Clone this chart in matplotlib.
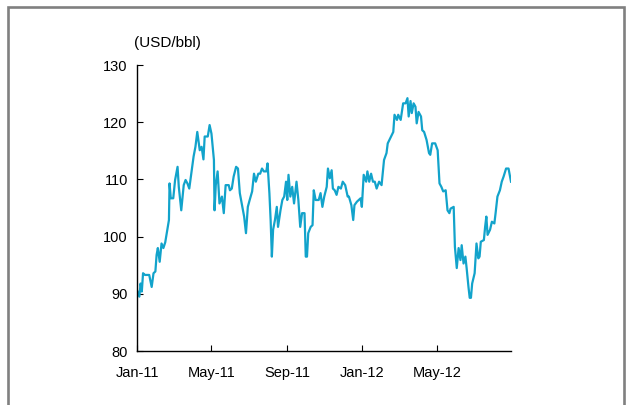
import matplotlib
matplotlib.use("Agg")
import matplotlib.pyplot as plt
import matplotlib.dates as mdates
import matplotlib.patches as mpatches
import pandas as pd

# days since 2011-01-01 and price (USD/bbl)
days = [0, 3, 5, 7, 9, 12, 19, 23, 26, 29, 31, 33, 36, 39, 42, 45, 48, 51, 52, 54,
        58, 61, 65, 67, 71, 75, 78, 81, 84, 88, 91, 94, 97, 101, 104, 107, 109, 114, 117, 120,
        124, 125, 127, 130, 133, 137, 140, 143, 148, 150, 153, 156, 160, 163, 166, 169, 173, 176, 179, 182,
        186, 189, 192, 196, 199, 202, 205, 209, 211, 214, 216, 218, 220, 223, 226, 228, 232, 235, 238, 241,
        243, 245, 248, 251, 254, 258, 261, 264, 267, 271, 273, 275, 277, 281, 284, 286, 289, 294, 297, 300,
        303, 307, 309, 312, 315, 317, 320, 323, 326, 330, 333, 337, 341, 343, 347, 350, 352, 356, 359, 362,
        364, 367, 371, 373, 376, 379, 382, 385, 388, 392, 396, 400, 404, 406, 410, 415, 417, 421, 423, 427,
        429, 431, 435, 438, 440, 443, 445, 448, 451, 453, 456, 460, 462, 465, 469, 473, 475, 478, 483, 487,
        490, 493, 496, 500, 503, 506, 508, 513, 515, 518, 521, 524, 526, 529, 532, 534, 537, 539, 541, 543,
        547, 550, 553, 555, 557, 562, 564, 566, 568, 572, 575, 579, 581, 584, 588, 591, 594, 598, 602, 606]
price = [90.4, 89.5, 91.8, 90.4, 93.6, 93.3, 93.3, 91.2, 93.6, 93.9, 96.8, 98.0, 95.6, 98.8, 98.0, 99.0, 101.0, 102.9, 109.3, 106.7,
         106.7, 109.9, 112.2, 108.7, 104.6, 109.0, 109.9, 109.3, 108.4, 111.6, 114.0, 115.7, 118.3, 115.1, 115.7, 113.5, 117.5, 117.5, 119.5, 118.0,
         113.4, 104.6, 109.0, 111.4, 105.8, 107.0, 104.1, 109.0, 109.0, 108.1, 108.4, 110.5, 112.2, 111.9, 107.6, 105.8, 103.5, 100.6, 105.2, 106.4,
         107.9, 111.0, 109.6, 111.0, 111.0, 111.9, 111.4, 111.4, 112.8, 107.6, 102.9, 96.5, 101.2, 102.9, 105.2, 101.7, 104.6, 106.4, 107.0, 109.6,
         106.4, 110.8, 107.0, 108.7, 105.8, 109.6, 106.4, 101.7, 104.1, 104.1, 96.5, 96.5, 100.6, 101.7, 102.0, 108.1, 106.4, 106.4, 107.6, 105.2,
         107.0, 108.7, 111.9, 110.2, 111.6, 108.4, 108.1, 107.3, 108.7, 108.4, 109.6, 109.0, 107.0, 107.0, 105.5, 102.9, 105.5, 106.1, 106.4, 106.7,
         105.2, 110.8, 109.6, 111.4, 109.6, 111.0, 109.6, 109.6, 108.4, 109.6, 109.0, 113.4, 114.6, 116.3, 117.2, 118.3, 121.3, 120.4, 121.3, 120.4,
         121.8, 123.3, 123.3, 124.2, 121.0, 123.7, 121.6, 123.3, 122.7, 119.8, 121.8, 121.0, 118.6, 118.3, 116.9, 114.6, 114.3, 116.3, 116.3, 115.1,
         109.3, 108.7, 107.9, 108.1, 104.6, 104.1, 104.9, 105.2, 98.2, 94.5, 98.0, 95.9, 98.5, 95.3, 96.5, 94.5, 91.2, 89.3, 89.3, 91.8,
         93.6, 98.8, 96.2, 96.5, 99.1, 99.4, 101.7, 103.5, 100.3, 101.2, 102.6, 102.3, 104.1, 107.0, 108.1, 109.6, 110.5, 111.9, 111.9, 109.6]

start = pd.Timestamp("2011-01-01")
dates = start + pd.to_timedelta(days, unit="D")

plt.rcParams['font.family'] = ['Liberation Sans', 'DejaVu Sans']

fig = plt.figure(figsize=(6.29, 4.05), dpi=100)
ax = fig.add_axes([0.2186, 0.1333, 0.5938, 0.7062])

ax.plot(dates, price, color='#12a3cb', lw=1.6)

ax.set_ylim(80, 130)
ax.set_yticks([80, 90, 100, 110, 120, 130])
ax.set_xlim(start, pd.Timestamp("2012-08-29"))
ax.xaxis.set_major_locator(mdates.MonthLocator(bymonth=[1, 5, 9]))
ax.xaxis.set_major_formatter(mdates.DateFormatter('%b-%y'))

for s in ['top', 'right']:
    ax.spines[s].set_visible(False)
for s in ['left', 'bottom']:
    ax.spines[s].set_linewidth(1.0)
ax.tick_params(axis='both', direction='in', length=4, width=0.8, labelsize=10.5)
ax.tick_params(axis='y', pad=7)
ax.tick_params(axis='x', pad=10.5)

fig.text(134 / 629, 1 - 43 / 405, '(USD/bbl)', fontsize=11, ha='left', va='center')

# grey frame, bottom edge falls off the image
fig.patches.append(mpatches.Rectangle((8 / 629, -0.1), 616 / 629, 1.1 - 7 / 405,
                                      transform=fig.transFigure, fill=False,
                                      edgecolor='#808080', lw=1.9))

fig.savefig('out.png', dpi=100)
